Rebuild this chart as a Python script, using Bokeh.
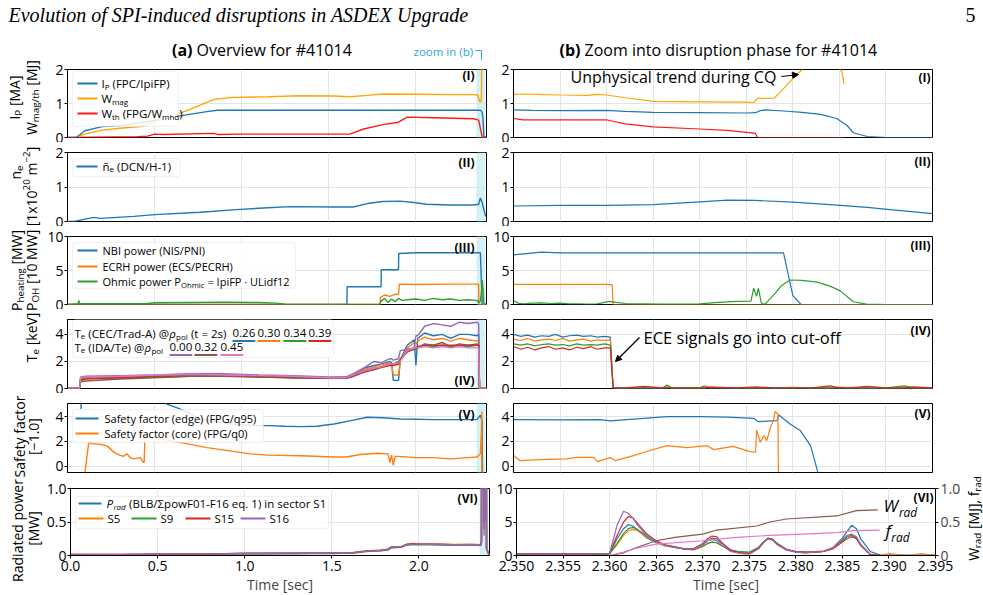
import math
from bokeh.plotting import figure
from bokeh.models import (Range1d, LinearAxis, FixedTicker, PrintfTickFormatter,
                          BoxAnnotation, Label, Arrow, NormalHead)
from bokeh.layouts import column, row
from bokeh.embed import file_html
from bokeh.resources import INLINE

FONT = "Open Sans"
SERIF = "Liberation Serif"
BLUE, ORANGE, GREEN, RED = "#1f77b4", "#ff7f0e", "#2ca02c", "#d62728"
PURPLE, BROWN, PINK = "#9467bd", "#8c564b", "#e377c2"
WMAG_C, WTH_C = "#ffa500", "#ff1a1a"
SKY = "#2aa8dc"

# ---------------- tick lists ----------------
L_XTICKS = [0.0, 0.5, 1.0, 1.5, 2.0]
R_XTICKS = [2.350, 2.355, 2.360, 2.365, 2.370, 2.375, 2.380, 2.385, 2.390, 2.395]

# ---------------- (I) current / energies ----------------
t_ip = [0, 0.05, 0.07, 0.10, 0.15, 0.20, 0.25, 0.30, 0.40, 0.50, 0.60, 0.70, 0.80, 0.86, 1.0, 1.5, 2.0, 2.30, 2.37, 2.375, 2.38, 2.385, 2.39, 2.405]
ip = [0, 0, 0.08, 0.20, 0.26, 0.32, 0.34, 0.35, 0.42, 0.50, 0.60, 0.68, 0.76, 0.80, 0.80, 0.80, 0.80, 0.80, 0.80, 0.78, 0.74, 0.55, 0.03, 0]
t_wmag = [0.07, 0.10, 0.19, 0.30, 0.42, 0.50, 0.57, 0.70, 0.84, 0.95, 1.15, 1.34, 1.53, 1.62, 1.72, 1.81, 2.0, 2.2, 2.33, 2.355, 2.365, 2.372, 2.376, 2.378]
wmag = [0.05, 0.10, 0.21, 0.27, 0.32, 0.45, 0.57, 0.82, 1.12, 1.18, 1.20, 1.23, 1.22, 1.20, 1.24, 1.28, 1.27, 1.26, 1.26, 1.25, 1.06, 1.04, 1.15, 2.5]
t_wth = [0, 0.40, 0.46, 0.50, 0.55, 0.84, 0.86, 1.0, 1.4, 1.62, 1.70, 1.81, 1.90, 1.95, 2.10, 2.33, 2.36, 2.376, 2.38, 2.405]
wth = [0, 0.02, 0.04, 0.10, 0.09, 0.12, 0.09, 0.10, 0.10, 0.10, 0.25, 0.38, 0.45, 0.60, 0.58, 0.55, 0.51, 0.12, 0, 0]

tr_wmag = [2.350, 2.351, 2.353, 2.355, 2.358, 2.359, 2.360, 2.362, 2.365, 2.370, 2.375, 2.3758, 2.3762, 2.378, 2.3785, 2.380, 2.381, 2.3825, 2.3845, 2.3853, 2.3855]
wmag_r = [1.26, 1.28, 1.26, 1.25, 1.24, 1.27, 1.25, 1.17, 1.06, 1.05, 1.04, 1.03, 1.15, 1.16, 1.29, 1.73, 2.0, 2.6, 2.3, 1.9, 1.58]
tr_ip = [2.350, 2.352, 2.355, 2.360, 2.362, 2.365, 2.370, 2.375, 2.376, 2.3765, 2.377, 2.379, 2.381, 2.383, 2.3847, 2.3858, 2.3865, 2.388, 2.390, 2.395]
ip_r = [0.81, 0.80, 0.79, 0.80, 0.77, 0.74, 0.73, 0.72, 0.73, 0.79, 0.81, 0.78, 0.74, 0.68, 0.56, 0.36, 0.14, 0.03, 0.0, 0.0]
tr_wth = [2.350, 2.351, 2.355, 2.360, 2.3603, 2.362, 2.365, 2.370, 2.373, 2.375, 2.376, 2.3762, 2.3855]
wth_r = [0.56, 0.52, 0.52, 0.52, 0.50, 0.40, 0.31, 0.25, 0.21, 0.15, 0.12, 0.0, 0.0]

# ---------------- (II) density ----------------
t_ne = [0, 0.04, 0.10, 0.15, 0.19, 0.38, 0.50, 0.76, 0.99, 1.15, 1.28, 1.53, 1.64, 1.72, 1.81, 1.91, 1.99, 2.06, 2.20, 2.33, 2.36, 2.37, 2.38, 2.40]
ne = [0, 0, 0.07, 0.12, 0.09, 0.15, 0.20, 0.27, 0.35, 0.40, 0.43, 0.42, 0.42, 0.52, 0.58, 0.59, 0.55, 0.50, 0.48, 0.48, 0.50, 0.68, 0.55, 0.15]
tr_ne = [2.350, 2.355, 2.360, 2.365, 2.370, 2.373, 2.376, 2.380, 2.384, 2.388, 2.391, 2.395]
ne_r = [0.45, 0.47, 0.47, 0.49, 0.57, 0.62, 0.61, 0.56, 0.49, 0.41, 0.33, 0.23]

# ---------------- (III) heating ----------------
t_nbi = [0, 1.604, 1.605, 1.80, 1.801, 1.90, 1.901, 2.0, 2.2, 2.37, 2.38, 2.405]
nbi = [0, 0, 2.6, 2.6, 5.1, 5.1, 7.5, 7.6, 7.6, 7.6, 0, 0]
t_ecrh = [0, 1.795, 1.796, 1.82, 1.85, 1.88, 1.90, 1.905, 2.0, 2.2, 2.36, 2.3606, 2.405]
ecrh = [0, 0, 1.0, 1.4, 1.2, 1.5, 1.5, 3.0, 2.95, 3.0, 3.0, 0, 0]
t_ohm = [0, 0.06, 0.065, 0.07, 0.2, 0.45, 0.5, 0.7, 0.9, 1.1, 1.2, 1.25, 1.3, 1.79, 1.80, 1.82, 1.84, 1.86, 1.88, 1.90, 1.92, 1.95, 2.0, 2.05, 2.1, 2.15, 2.2, 2.25, 2.3, 2.35, 2.36, 2.37, 2.378, 2.38, 2.386, 2.39, 2.405]
ohm = [0, 0.1, 0.6, 0.1, 0.1, 0.1, 0.25, 0.3, 0.35, 0.3, 0.2, 0.05, 0, 0, 0.5, 0.9, 0.3, 0.8, 0.4, 0.9, 0.6, 0.7, 0.8, 0.6, 0.9, 0.7, 0.8, 0.6, 0.7, 0.6, 0.3, 0.5, 2.4, 3.6, 2.0, 0.1, 0]
tr_nbi = [2.350, 2.353, 2.355, 2.360, 2.370, 2.379, 2.380, 2.3809, 2.395]
nbi_r = [7.3, 7.7, 7.6, 7.6, 7.6, 7.6, 1.3, 0.0, 0.0]
tr_ecrh = [2.350, 2.360, 2.3606, 2.3607, 2.395]
ecrh_r = [2.95, 2.95, 2.9, 0.0, 0.0]
tr_ohm = [2.350, 2.3505, 2.351, 2.352, 2.353, 2.354, 2.355, 2.356, 2.357, 2.358, 2.359, 2.3603, 2.361, 2.362, 2.364, 2.366, 2.368, 2.370, 2.372, 2.374, 2.3755, 2.3758, 2.3761, 2.3763, 2.3766, 2.3769, 2.3772, 2.378, 2.3788, 2.3797, 2.381, 2.3826, 2.384, 2.3851, 2.3865, 2.3879, 2.390, 2.395]
ohm_r = [0.6, 0.2, 0.1, 0.2, 0.25, 0.15, 0.2, 0.1, 0.1, 0.05, 0.1, 0.45, 0.3, 0.15, 0.1, 0.05, 0.05, 0.1, 0.3, 0.45, 0.5, 2.4, 1.2, 2.4, 0.3, 0.0, 0.3, 1.5, 2.8, 3.6, 3.55, 3.3, 2.7, 2.0, 0.4, 0.05, 0.0, 0.0]

# ---------------- (IV) electron temperature ----------------
t_te = [0, 0.07, 0.075, 0.1, 0.3, 0.5, 0.7, 0.9, 1.1, 1.3, 1.5, 1.6, 1.64, 1.70, 1.76, 1.80, 1.85, 1.86, 1.87, 1.90, 1.91, 1.95, 1.99, 2.0, 2.01, 2.05, 2.1, 2.15, 2.2, 2.25, 2.3, 2.35, 2.36, 2.365, 2.405]
te026 = [0, 0, 0.75, 0.8, 0.9, 0.95, 1.0, 1.0, 0.9, 0.85, 0.8, 0.85, 1.0, 1.5, 1.7, 1.8, 2.0, 1.9, 0.6, 0.6, 2.1, 3.2, 3.6, 1.7, 3.7, 4.1, 3.9, 4.0, 3.7, 4.0, 4.0, 3.9, 4.0, 0, 0]
te030 = [0, 0, 0.7, 0.8, 0.85, 0.95, 1.0, 1.0, 0.9, 0.85, 0.8, 0.8, 0.95, 1.4, 1.6, 1.75, 1.9, 1.8, 1.0, 1.0, 2.0, 3.0, 3.4, 3.3, 3.5, 3.8, 3.6, 3.7, 3.5, 3.7, 3.6, 3.5, 3.6, 0, 0]
te034 = [0, 0, 0.65, 0.75, 0.8, 0.9, 0.95, 0.95, 0.85, 0.8, 0.75, 0.75, 0.9, 1.3, 1.5, 1.6, 1.8, 1.8, 1.75, 1.8, 2.2, 2.7, 2.9, 2.9, 3.0, 3.2, 3.1, 3.2, 3.1, 3.2, 3.1, 3.2, 3.2, 0, 0]
te039 = [0, 0, 0.6, 0.7, 0.8, 0.85, 0.9, 0.9, 0.85, 0.8, 0.75, 0.75, 0.9, 1.2, 1.4, 1.55, 1.7, 1.7, 1.7, 1.8, 2.1, 2.7, 3.0, 3.0, 3.1, 3.2, 3.2, 3.2, 3.2, 3.2, 3.2, 3.2, 3.2, 0, 0]
ida000 = [0, 0, 0.85, 0.9, 0.95, 1.0, 1.1, 1.1, 1.0, 0.95, 0.85, 0.85, 1.1, 1.5, 2.0, 1.9, 2.2, 2.2, 2.1, 2.2, 2.8, 2.9, 3.0, 3.9, 3.9, 4.6, 4.8, 4.7, 4.6, 4.9, 4.8, 4.9, 4.8, 0, 0]
ida032 = [0, 0, 0.5, 0.55, 0.7, 0.8, 0.9, 0.9, 0.9, 0.8, 0.8, 0.8, 0.9, 1.3, 1.4, 1.6, 1.8, 1.8, 1.8, 2.0, 2.1, 2.8, 2.9, 2.9, 3.0, 3.3, 3.2, 3.4, 3.1, 3.3, 3.2, 3.3, 3.2, 0, 0]
ida045 = [0, 0, 0.8, 0.85, 0.9, 1.0, 1.05, 1.0, 0.95, 0.9, 0.8, 0.8, 1.0, 1.3, 1.5, 1.6, 1.8, 1.8, 1.8, 1.9, 2.0, 2.8, 3.0, 3.0, 3.0, 3.1, 3.0, 3.1, 3.0, 3.1, 3.0, 3.0, 3.0, 0, 0]

tr_te = [2.3500, 2.3508, 2.3515, 2.3523, 2.3530, 2.3538, 2.3545, 2.3553, 2.3560, 2.3568, 2.3575, 2.3583, 2.3590, 2.3598, 2.3604,
         2.3607, 2.3620, 2.3640, 2.3660, 2.3665, 2.3670, 2.3700, 2.3705, 2.3710, 2.3740, 2.3760, 2.3780, 2.3800, 2.3820, 2.3840,
         2.3850, 2.3860, 2.3880, 2.3900, 2.3920, 2.3930, 2.3950]
te026_r = [4.0, 3.85, 3.95, 3.8, 3.9, 3.85, 4.0, 3.8, 3.9, 3.95, 3.85, 3.9, 3.8, 3.85, 3.8,
           0.03, 0.03, 0.03, 0.03, 0.03, 0.03, 0.03, 0.03, 0.03, 0.03, 0.03, 0.03, 0.03, 0.03, 0.03, 0.03, 0.03, 0.03, 0.03, 0.03, 0.03, 0.03]
te030_r = [3.65, 3.55, 3.7, 3.5, 3.6, 3.65, 3.55, 3.7, 3.5, 3.6, 3.65, 3.5, 3.6, 3.55, 3.6,
           0.05, 0.05, 0.08, 0.05, 0.12, 0.05, 0.05, 0.05, 0.1, 0.05, 0.05, 0.05, 0.08, 0.05, 0.05, 0.1, 0.05, 0.05, 0.05, 0.05, 0.05, 0.05]
te034_r = [3.3, 3.2, 3.3, 3.15, 3.25, 3.3, 3.2, 3.25, 3.15, 3.3, 3.2, 3.25, 3.2, 3.3, 3.2,
           0.05, 0.05, 0.05, 0.05, 0.25, 0.05, 0.05, 0.2, 0.05, 0.05, 0.05, 0.05, 0.05, 0.05, 0.05, 0.05, 0.05, 0.05, 0.05, 0.2, 0.05, 0.05]
te039_r = [3.1, 2.9, 3.05, 2.85, 3.0, 3.1, 2.9, 3.0, 2.85, 3.05, 2.95, 3.1, 2.9, 3.0, 3.0,
           0.05, 0.05, 0.15, 0.05, 0.05, 0.05, 0.05, 0.05, 0.1, 0.05, 0.12, 0.05, 0.05, 0.05, 0.2, 0.05, 0.05, 0.15, 0.05, 0.05, 0.12, 0.05]

# ---------------- (V) safety factor ----------------
t_q95 = [0.077, 0.078, 0.080, 0.3, 0.5, 0.57, 0.63, 0.69, 0.76, 0.85, 0.95, 1.05, 1.15, 1.25, 1.34, 1.43, 1.53, 1.62, 1.72, 1.81, 1.91, 2.0, 2.1, 2.2, 2.35, 2.37, 2.38, 2.382, 2.405]
q95 = [9, 4.6, 9, 8, 6, 5.0, 4.7, 4.35, 3.8, 3.6, 3.4, 3.3, 3.27, 3.22, 3.19, 3.22, 3.4, 3.65, 3.94, 3.9, 3.8, 3.78, 3.75, 3.75, 3.75, 4.1, 3.6, -1, -1]
t_q0 = [0.10, 0.12, 0.13, 0.14, 0.17, 0.21, 0.23, 0.27, 0.30, 0.32, 0.34, 0.36, 0.38, 0.42, 0.43, 0.44, 0.445, 0.45, 0.48, 0.57, 0.69, 0.80, 0.95, 1.05, 1.15, 1.34, 1.53, 1.60, 1.68, 1.78, 1.84, 1.85, 1.86, 1.87, 1.88, 1.90, 2.0, 2.1, 2.2, 2.3, 2.35, 2.37, 2.376, 2.378, 2.3785]
q0 = [-0.5, 1.7, 2.0, 1.8, 1.8, 1.7, 1.6, 1.1, 0.9, 0.8, 1.0, 0.7, 0.6, 0.7, 0.4, 0.3, 2.5, 2.4, 2.3, 2.1, 1.8, 1.5, 1.2, 1.0, 0.9, 0.85, 0.75, 0.75, 0.95, 1.05, 1.0, 0.3, 0.9, 0.1, 0.8, 0.8, 0.7, 0.7, 0.6, 0.7, 0.75, 1.0, 2.9, 4.4, -0.5]
tr_q95 = [2.350, 2.355, 2.3593, 2.3604, 2.3629, 2.3665, 2.3700, 2.3730, 2.3758, 2.3763, 2.3783, 2.3785, 2.3797, 2.3808, 2.3819, 2.3824, 2.3827]
q95_r = [3.75, 3.73, 3.75, 3.65, 3.8, 4.0, 4.0, 3.95, 3.86, 3.59, 3.67, 4.13, 3.4, 2.87, 1.66, 0.32, -0.54]
tr_q0 = [2.3500, 2.3507, 2.3529, 2.3557, 2.3568, 2.3586, 2.3590, 2.3604, 2.3609, 2.3629, 2.3640, 2.3665, 2.3686, 2.3708, 2.3715, 2.3736, 2.3754, 2.3760, 2.3761, 2.3765, 2.3769, 2.3772, 2.3776, 2.3779, 2.3781, 2.3784, 2.37845]
q0_r = [0.86, 0.46, 0.54, 0.59, 0.72, 0.72, 0.38, 0.70, 0.46, 0.86, 1.13, 1.66, 1.5, 1.66, 1.34, 1.6, 1.18, 1.13, 2.92, 1.93, 2.47, 2.06, 3.14, 3.67, 4.40, 4.21, -0.48]

# ---------------- (VI) radiated power ----------------
t_prL = [0, 0.3, 0.5, 0.8, 1.0, 1.3, 1.5, 1.62, 1.65, 1.70, 1.78, 1.82, 1.84, 1.90, 1.93, 1.96, 2.0, 2.1, 2.2, 2.3, 2.355, 2.359, 2.3615, 2.366, 2.371, 2.374, 2.377, 2.381, 2.386, 2.388, 2.405]
prL_s1 = [0.01, 0.01, 0.015, 0.02, 0.03, 0.03, 0.035, 0.04, 0.05, 0.065, 0.075, 0.085, 0.12, 0.13, 0.16, 0.17, 0.17, 0.165, 0.16, 0.16, 0.16, 0.2, 4.6, 1.5, 2.6, 0.5, 2.6, 0.5, 4.5, 0.1, 0.0]
prL_s5 = [0.02, 0.015, 0.02, 0.025, 0.035, 0.035, 0.04, 0.045, 0.055, 0.07, 0.08, 0.09, 0.125, 0.135, 0.17, 0.18, 0.175, 0.17, 0.165, 0.165, 0.16, 0.2, 3.9, 1.4, 2.0, 0.5, 2.5, 0.6, 3.0, 0.1, 0.0]
prL_s9 = [0.01, 0.012, 0.015, 0.02, 0.025, 0.03, 0.03, 0.035, 0.045, 0.06, 0.07, 0.08, 0.11, 0.125, 0.155, 0.16, 0.165, 0.16, 0.155, 0.155, 0.15, 0.2, 4.2, 1.5, 2.0, 0.6, 2.6, 0.5, 3.0, 0.1, 0.0]
prL_s15 = [0.015, 0.015, 0.02, 0.025, 0.03, 0.035, 0.035, 0.04, 0.05, 0.065, 0.08, 0.09, 0.125, 0.13, 0.165, 0.175, 0.17, 0.17, 0.16, 0.165, 0.16, 0.2, 5.8, 1.6, 2.9, 0.4, 2.5, 0.6, 2.8, 0.1, 0.0]
prL_s16 = [0.012, 0.015, 0.02, 0.025, 0.03, 0.03, 0.04, 0.04, 0.05, 0.065, 0.075, 0.085, 0.12, 0.135, 0.16, 0.17, 0.17, 0.165, 0.16, 0.16, 0.16, 0.2, 6.6, 1.5, 2.4, 0.3, 2.5, 0.5, 3.2, 0.1, 0.0]

tr_pr = [2.350, 2.352, 2.354, 2.356, 2.358, 2.360, 2.3608, 2.3615, 2.362, 2.3625, 2.363, 2.364, 2.365, 2.366, 2.367, 2.368,
         2.369, 2.370, 2.3705, 2.371, 2.3715, 2.372, 2.373, 2.374, 2.375, 2.376, 2.3765, 2.377, 2.3775, 2.378, 2.379, 2.380,
         2.381, 2.382, 2.383, 2.384, 2.385, 2.3855, 2.386, 2.3865, 2.387, 2.388, 2.389, 2.390, 2.392, 2.3935, 2.395]
pr_s1 = [0.2, 0.25, 0.2, 0.15, 0.2, 0.25, 2.5, 4.0, 4.6, 4.4, 3.8, 2.6, 1.9, 1.5, 1.3, 1.0, 1.0, 1.6, 2.2, 2.6, 2.5, 1.9, 0.8, 0.5, 0.3, 1.2, 2.0, 2.6, 2.4, 1.8, 0.9, 0.6, 0.5, 0.5, 0.6, 1.2, 2.6, 3.6, 4.5, 4.0, 2.4, 0.6, 0.1, 0.05, 0.05, 0.05, 0.05]
pr_s5 = [0.25, 0.3, 0.2, 0.25, 0.2, 0.3, 1.6, 3.0, 3.7, 3.9, 3.7, 2.8, 2.0, 1.4, 1.2, 1.0, 0.8, 1.3, 1.8, 2.0, 1.9, 1.5, 0.8, 0.5, 0.4, 1.1, 1.9, 2.5, 2.3, 1.7, 0.9, 0.6, 0.5, 0.6, 0.7, 1.2, 2.3, 2.8, 3.0, 2.7, 1.6, 0.1, 0.0, 0.3, 0.0, 0.3, 0.0]
pr_s9 = [0.2, 0.2, 0.25, 0.2, 0.2, 0.25, 1.8, 3.3, 4.0, 4.2, 3.9, 2.9, 2.0, 1.5, 1.2, 1.0, 0.9, 1.4, 1.8, 2.0, 1.9, 1.5, 0.7, 0.6, 0.5, 1.2, 2.0, 2.6, 2.4, 1.8, 0.9, 0.5, 0.4, 0.5, 0.6, 1.1, 2.2, 2.8, 3.0, 2.6, 1.4, 0.1, 0.0, 0.0, 0.0, 0.0, 0.0]
pr_s15 = [0.2, 0.3, 0.2, 0.2, 0.2, 0.3, 3.0, 5.0, 5.8, 5.6, 4.8, 3.2, 2.2, 1.6, 1.3, 1.0, 1.0, 1.8, 2.5, 2.9, 2.8, 2.0, 0.8, 0.4, 0.3, 1.1, 1.9, 2.5, 2.4, 1.7, 0.9, 0.6, 0.5, 0.5, 0.6, 1.0, 2.0, 2.5, 2.8, 2.5, 1.5, 0.2, 0.0, 0.0, 0.0, 0.0, 0.0]
pr_s16 = [0.2, 0.2, 0.25, 0.2, 0.2, 0.3, 4.5, 6.6, 6.3, 5.6, 4.5, 3.0, 2.0, 1.5, 1.2, 1.0, 0.9, 1.7, 2.2, 2.4, 2.2, 1.6, 0.6, 0.3, 0.2, 1.0, 1.9, 2.5, 2.3, 1.6, 0.8, 0.5, 0.4, 0.5, 0.6, 1.1, 2.4, 3.0, 3.2, 2.8, 1.6, 0.1, 0.0, 0.0, 0.0, 0.0, 0.0]
tr_wrad = [2.350, 2.360, 2.3615, 2.3629, 2.365, 2.367, 2.370, 2.3715, 2.3758, 2.3772, 2.379, 2.3844, 2.3865, 2.3888]
wrad = [0.0, 0.0, 0.04, 0.12, 0.22, 0.27, 0.32, 0.38, 0.44, 0.50, 0.545, 0.59, 0.67, 0.68]
tr_frad = [2.350, 2.360, 2.3615, 2.3629, 2.365, 2.370, 2.3736, 2.3772, 2.3808, 2.3844, 2.3862, 2.389]
frad = [0.0, 0.0, 0.05, 0.11, 0.17, 0.22, 0.27, 0.30, 0.32, 0.34, 0.37, 0.38]

# ---------------- layout geometry (page pixels) ----------------
ROW_T = [69, 152, 236, 319, 403, 488]
ROW_H = [68, 69, 68, 69, 69, 67]
HEADER_H = 60
LAB_W = 43            # left strip for the y-axis titles
RLAB_W = 21           # right strip for the right-axis title
MID = {FONT: 0.388, SERIF: 0.3375}   # baseline -> middle offset (em)

CW = {}
for ch, w in zip("abcdefghijklmnopqrstuvwxyz",
                 [.556, .613, .48, .613, .561, .336, .546, .613, .258, .258, .52, .258, .93, .613, .6, .613, .613, .408, .479, .347, .613, .501, .775, .522, .501, .468]):
    CW[ch] = w
for ch, w in zip("ABCDEFGHIJKLMNOPQRSTUVWXYZ",
                 [.633, .647, .631, .73, .556, .519, .728, .738, .279, .267, .614, .519, .903, .754, .779, .602, .779, .618, .549, .553, .729, .581, .906, .576, .553, .555]):
    CW[ch] = w
for ch in "0123456789":
    CW[ch] = .572
CW.update({" ": .26, "(": .297, ")": .297, "[": .328, "]": .328, "/": .371, ".": .266, ",": .25,
           "-": .322, "\u2212": .572, "=": .572, "#": .646, ":": .266, "\u03c1": .6, "\u00b7": .266,
           "\u03a3": .6, "\u00f1": .613, "@": .9})


def tw(s, size, bold=False):
    w = sum(CW.get(c, .56) for c in s) * size
    return w * 1.08 if bold else w


class Panel:
    """Text/annotation helper; positions are given in page pixels (baseline positions)."""

    def __init__(self, p, fx0, fy1):
        self.p, self.fx0, self.fy1 = p, fx0, fy1

    def label(self, X, Y, text, size, color="black", style="normal", angle=0.0, align="left",
              baseline="alphabetic", font=FONT):
        dx = dy = 0.0
        if baseline == "alphabetic":
            s = MID.get(font, 0.388) * size
            if angle == 0:
                dy = s
            else:
                dx = -s
            baseline = "middle"
        self.p.add_layout(Label(x=X - self.fx0 + dx, y=self.fy1 - Y + dy, x_units="screen", y_units="screen",
                                text=text, text_font=font, text_font_size="%.1fpx" % size,
                                text_color=color, text_font_style=style, angle=angle,
                                text_align=align, text_baseline=baseline))

    def rich(self, X, Y, parts, size, angle=0.0, color="black", align="left"):
        segs, total = [], 0.0
        for txt, kind in parts:
            small = kind.startswith("sub") or kind.startswith("sup")
            fs = size * 0.7 if small else size
            lead = len(txt) - len(txt.lstrip(" "))
            body = txt.lstrip(" ")
            w = tw(body, fs, kind == "b")
            pre = lead * 0.26 * fs
            segs.append((body, kind, fs, w, pre))
            total += w + pre
        cur = -total / 2 if align == "center" else 0.0
        for body, kind, fs, w, pre in segs:
            cur += pre
            off = -0.22 * size if kind.startswith("sub") else (0.42 * size if kind.startswith("sup") else 0.0)
            off += MID[FONT] * fs
            style = "italic" if kind in ("i", "subi") else ("bold" if kind == "b" else "normal")
            if angle == 0:
                sx, sy = X - self.fx0 + cur, self.fy1 - Y + off
            else:
                sx, sy = X - self.fx0 - off, self.fy1 - Y + cur
            self.p.add_layout(Label(x=sx, y=sy, x_units="screen", y_units="screen", text=body,
                                    text_font=FONT, text_font_size="%.1fpx" % fs, text_color=color,
                                    text_font_style=style, angle=angle, text_align="left",
                                    text_baseline="middle"))
            cur += w

    def seg(self, x0, y0, x1, y1, color, width=1.0, alpha=1.0, head=None):
        self.p.add_layout(Arrow(end=head, x_start=x0 - self.fx0, y_start=self.fy1 - y0,
                                x_end=x1 - self.fx0, y_end=self.fy1 - y1,
                                start_units="screen", end_units="screen",
                                line_color=color, line_width=width, line_alpha=alpha))

    def box(self, x0, y0, x1, y1):
        self.p.add_layout(BoxAnnotation(left=x0 - self.fx0, right=x1 - self.fx0,
                                        top=self.fy1 - y0, bottom=self.fy1 - y1,
                                        left_units="screen", right_units="screen",
                                        top_units="screen", bottom_units="screen",
                                        fill_color="white", fill_alpha=0.85, line_color="#cccccc",
                                        line_width=1, border_radius=3))


def blank_fig(w, h):
    f = figure(width=w, height=h, x_range=Range1d(0, 1), y_range=Range1d(0, 1),
               x_axis_location=None, y_axis_location=None, output_backend="svg",
               toolbar_location=None, tools="", min_border=0)
    f.grid.visible = False
    f.outline_line_color = None
    return f


def make_panel(col, r, yr, yticks, yfmt, yover=None):
    fx0 = 67 if col == 0 else 513
    fig_top = HEADER_H if r == 0 else ROW_T[r - 1] + ROW_H[r - 1] + 5
    mbt = ROW_T[r] - fig_top
    mbb = 40 if r == 5 else 5
    xr = Range1d(0, 2.405) if col == 0 else Range1d(2.35, 2.395)
    p = figure(frame_width=419, frame_height=ROW_H[r], x_range=xr, y_range=Range1d(*yr),
               min_border_left=67 - LAB_W if col == 0 else 26, min_border_right=1 if col == 0 else 30,
               min_border_top=mbt, min_border_bottom=mbb,
               output_backend="svg", toolbar_location=None, tools="")
    p.outline_line_color = "black"
    p.outline_line_width = 1
    p.outline_line_alpha = 1
    xt = FixedTicker(ticks=L_XTICKS if col == 0 else R_XTICKS)
    p.xaxis.ticker = xt
    p.xgrid.ticker = xt
    p.xaxis.formatter = PrintfTickFormatter(format="%.1f" if col == 0 else "%.3f")
    p.yaxis.ticker = FixedTicker(ticks=yticks)
    p.yaxis.formatter = PrintfTickFormatter(format=yfmt)
    if yover:
        p.yaxis.major_label_overrides = yover
    p.grid.grid_line_color = "#e4e4e4"
    p.grid.grid_line_width = 1
    p.axis.axis_line_color = "black"
    p.axis.major_tick_line_color = "black"
    p.axis.major_tick_out = 3
    p.axis.major_tick_in = 0
    p.axis.minor_tick_line_color = None
    p.axis.major_label_text_font = FONT
    p.axis.major_label_text_font_size = "14px"
    p.axis.major_label_text_color = "black"
    p.axis.major_label_standoff = 1
    if r < 5:
        p.xaxis.visible = False
    else:
        p.xaxis.major_label_standoff = 2
        p.xaxis.axis_label = "Time [sec]"
        p.xaxis.axis_label_text_font = FONT
        p.xaxis.axis_label_text_font_size = "14px"
        p.xaxis.axis_label_text_font_style = "normal"
        p.xaxis.axis_label_standoff = 1
    if col == 0:
        p.add_layout(BoxAnnotation(left=2.35, right=2.395, fill_color="#c6eef2", fill_alpha=0.75,
                                   line_color="#8fd6df", line_width=0.6, level="underlay"))
    return Panel(p, fx0, ROW_T[r] + ROW_H[r])


def panel_tag(pn, col, Y, text):
    pn.label(474 if col == 0 else 930, Y, text, 12, style="bold", align="right", baseline="middle")


LW, RW = 1.4, 1.2
VERT = math.pi / 2

# side strips and header (texts outside the plot frames live here)
LAB = Panel(blank_fig(LAB_W, 595 - HEADER_H), 0, 595)
RLAB = Panel(blank_fig(RLAB_W, 595 - HEADER_H), 983 - RLAB_W, 595)
HEAD = Panel(blank_fig(983, HEADER_H), 0, HEADER_H)

HEAD.label(8, 21, "Evolution of SPI-induced disruptions in ASDEX Upgrade", 20, style="italic", font=SERIF)
HEAD.label(975, 21, "5", 20, align="right", font=SERIF)
HEAD.label(192, 56, "(a)", 16, style="bold", align="right")
HEAD.label(196, 56, "Overview for #41014", 16)
HEAD.label(580, 56, "(b)", 16, style="bold", align="right")
HEAD.label(584, 56, "Zoom into disruption phase for #41014", 16)
HEAD.label(413, 55, "zoom in (b)", 11.5, color=SKY)
HEAD.seg(475, 50, 481, 50, SKY, 1)
HEAD.seg(481, 50, 481, 60, SKY, 1)

# ================= Row I =================
L1 = make_panel(0, 0, (0, 2), [0, 1, 2], "%d")
L1.p.line(t_ip, ip, color=BLUE, line_width=LW)
L1.p.line(t_wmag, wmag, color=WMAG_C, line_width=LW)
L1.p.line(t_wth, wth, color=WTH_C, line_width=LW)
L1.box(72, 71, 178, 126)
for yy, c, parts in [(83, BLUE, [("I", "n"), ("P", "sub"), (" (FPC/IpiFP)", "n")]),
                     (98, WMAG_C, [("W", "n"), ("mag", "sub")]),
                     (113, WTH_C, [("W", "n"), ("th", "sub"), (" (FPG/W", "n"), ("mhd", "sub"), (")", "n")])]:
    L1.seg(77, yy, 97, yy, c, 2)
    L1.rich(101, yy + 4, parts, 11.5)
panel_tag(L1, 0, 75, "(I)")
LAB.rich(19, 97, [("I", "n"), ("P", "sub"), (" [MA]", "n")], 14, angle=VERT, align="center")
LAB.rich(36, 97, [("W", "n"), ("mag/th", "sub"), (" [MJ]", "n")], 14, angle=VERT, align="center")

R1 = make_panel(1, 0, (0, 2), [0, 1, 2], "%d")
R1.p.line(tr_ip, ip_r, color=BLUE, line_width=RW)
R1.p.line(tr_wmag, wmag_r, color=WMAG_C, line_width=RW)
R1.p.line(tr_wth, wth_r, color=WTH_C, line_width=RW)
panel_tag(R1, 1, 77, "(I)")
R1.label(570, 83, "Unphysical trend during CQ", 16)
R1.seg(781, 76, 798, 74, "black", 1.2, head=NormalHead(size=6, fill_color="black", line_color="black"))

# ================= Row II =================
L2 = make_panel(0, 1, (0, 2), [0, 1, 2], "%d")
L2.p.line(t_ne, ne, color=BLUE, line_width=LW)
L2.box(72, 158, 180, 176)
L2.seg(76, 166, 97, 166, BLUE, 2)
L2.rich(102, 170, [("\u00f1", "n"), ("e", "sub"), (" (DCN/H-1)", "n")], 11.5)
panel_tag(L2, 0, 162, "(II)")
LAB.rich(20, 172, [("n", "n"), ("e", "sub")], 14, angle=VERT, align="center")
LAB.rich(36, 186, [("[1x10", "n"), ("20", "sup"), (" m", "n"), ("\u22122", "sup"), ("]", "n")], 14,
         angle=VERT, align="center")

R2 = make_panel(1, 1, (0, 2), [0, 1, 2], "%d")
R2.p.line(tr_ne, ne_r, color=BLUE, line_width=RW)
panel_tag(R2, 1, 161, "(II)")

# ================= Row III =================
L3 = make_panel(0, 2, (0, 10), [0, 5, 10], "%d")
L3.p.line(t_nbi, nbi, color=BLUE, line_width=LW)
L3.p.line(t_ecrh, ecrh, color=ORANGE, line_width=LW)
L3.p.line(t_ohm, ohm, color=GREEN, line_width=LW)
L3.box(72, 242, 295, 288)
for yy, c, parts in [(250, BLUE, [("NBI power (NIS/PNI)", "n")]),
                     (266, ORANGE, [("ECRH power (ECS/PECRH)", "n")]),
                     (281, GREEN, [("Ohmic power P", "n"), ("Ohmic", "sub"), (" = IpiFP \u00b7 ULidf12", "n")])]:
    L3.seg(77, yy, 97, yy, c, 2)
    L3.rich(102, yy + 4, parts, 11)
panel_tag(L3, 0, 247, "(III)")
LAB.rich(21, 270, [("P", "n"), ("heating", "sub"), (" [MW]", "n")], 14, angle=VERT, align="center")
LAB.rich(36, 270, [("P", "n"), ("OH", "sub"), (" [10 MW]", "n")], 14, angle=VERT, align="center")

R3 = make_panel(1, 2, (0, 10), [0, 5, 10], "%d")
R3.p.line(tr_nbi, nbi_r, color=BLUE, line_width=RW)
R3.p.line(tr_ecrh, ecrh_r, color=ORANGE, line_width=RW)
R3.p.line(tr_ohm, ohm_r, color=GREEN, line_width=RW)
panel_tag(R3, 1, 245, "(III)")

# ================= Row IV =================
L4 = make_panel(0, 3, (0, 5.1), [0, 2, 4], "%d")
for ys, c in [(te026, BLUE), (te030, ORANGE), (te034, GREEN), (te039, RED),
              (ida000, PURPLE), (ida032, BROWN), (ida045, PINK)]:
    L4.p.line(t_te, ys, color=c, line_width=LW)
L4.box(72, 319, 333, 357)
L4.rich(74, 337, [("T", "n"), ("e", "sub"), (" (CEC/Trad-A) @", "n"), ("\u03c1", "i"), ("pol", "sub"), (" (t = 2s)", "n")], 11.5)
for x0, txt, c in [(232, "0.26", BLUE), (257, "0.30", ORANGE), (283, "0.34", GREEN), (308, "0.39", RED)]:
    L4.label(x0, 337, txt, 11.5)
    L4.seg(x0, 340.5, x0 + tw(txt, 11.5), 340.5, c, 2)
L4.rich(74, 351, [("T", "n"), ("e", "sub"), (" (IDA/Te) @", "n"), ("\u03c1", "i"), ("pol", "sub")], 11.5)
for x0, txt, c in [(169, "0.00", PURPLE), (194, "0.32", BROWN), (220, "0.45", PINK)]:
    L4.label(x0, 351, txt, 11.5)
    L4.seg(x0, 354.5, x0 + tw(txt, 11.5), 354.5, c, 2)
panel_tag(L4, 0, 380, "(IV)")
LAB.rich(36, 337, [("T", "n"), ("e", "sub"), (" [keV]", "n")], 14, angle=VERT, align="center")

R4 = make_panel(1, 3, (0, 5.1), [0, 2, 4], "%d")
for ys, c in [(te026_r, BLUE), (te030_r, ORANGE), (te034_r, GREEN), (te039_r, RED)]:
    R4.p.line(tr_te, ys, color=c, line_width=RW)
panel_tag(R4, 1, 330, "(IV)")
R4.label(643, 343, "ECE signals go into cut-off", 16.5)
R4.seg(639, 337, 615, 361, "black", 1.2, head=NormalHead(size=6, fill_color="black", line_color="black"))

# ================= Row V =================
L5 = make_panel(0, 4, (-0.5, 5.05), [0, 2, 4], "%d")
L5.p.line(t_q95, q95, color=BLUE, line_width=LW)
L5.p.line(t_q0, q0, color=ORANGE, line_width=LW)
L5.box(72, 409, 263, 442)
for yy, c, txt in [(418, BLUE, "Safety factor (edge) (FPG/q95)"), (433, ORANGE, "Safety factor (core) (FPG/q0)")]:
    L5.seg(75, yy, 98, yy, c, 2)
    L5.label(104, yy + 4, txt, 11)
panel_tag(L5, 0, 414, "(V)")
LAB.label(24, 436, "Safety factor", 14, angle=VERT, align="center")
LAB.label(38, 436, "[\u22121.0]", 14, angle=VERT, align="center")

R5 = make_panel(1, 4, (-0.5, 5.05), [0, 2, 4], "%d")
R5.p.line(tr_q95, q95_r, color=BLUE, line_width=RW)
R5.p.line(tr_q0, q0_r, color=ORANGE, line_width=RW)
panel_tag(R5, 1, 413, "(V)")

# ================= Row VI =================
L6 = make_panel(0, 5, (0, 1), [0, 0.5, 1.0], "%.1f", {0: "0"})
for ys, c in [(prL_s1, BLUE), (prL_s5, ORANGE), (prL_s9, GREEN), (prL_s15, RED), (prL_s16, PURPLE)]:
    L6.p.line(t_prL, ys, color=c, line_width=LW)
L6.box(72, 496, 325, 528)
L6.seg(75, 503, 98, 503, BLUE, 2)
L6.rich(103, 507, [("P", "i"), ("rad", "subi"), (" (BLB/\u03a3powF01-F16 eq. 1) in sector S1", "n")], 11.5)
for x0, txt, c in [(75, "S5", ORANGE), (128, "S9", GREEN), (182, "S15", RED), (237, "S16", PURPLE)]:
    L6.seg(x0, 518, x0 + 25, 518, c, 2)
    L6.label(x0 + 29, 522, txt, 11.5)
panel_tag(L6, 0, 498, "(VI)")
LAB.label(22, 530, "Radiated power", 14, angle=VERT, align="center")
LAB.label(38, 528, "[MW]", 14, angle=VERT, align="center")

R6 = make_panel(1, 5, (0, 10), [0, 5, 10], "%d")
R6.p.extra_y_ranges = {"w": Range1d(0, 1)}
rax = LinearAxis(y_range_name="w", ticker=FixedTicker(ticks=[0, 0.5, 1.0]),
                 formatter=PrintfTickFormatter(format="%.1f"), major_label_overrides={0: "0"},
                 axis_line_color="black", major_tick_line_color="black", major_tick_out=3, major_tick_in=0,
                 minor_tick_line_color=None, major_label_text_font=FONT, major_label_text_font_size="14px",
                 major_label_standoff=2)
R6.p.add_layout(rax, "right")
for ys, c in [(pr_s1, BLUE), (pr_s5, ORANGE), (pr_s9, GREEN), (pr_s15, RED), (pr_s16, PURPLE)]:
    R6.p.line(tr_pr, ys, color=c, line_width=RW)
R6.p.line(tr_wrad, wrad, color=BROWN, line_width=RW, y_range_name="w")
R6.p.line(tr_frad, frad, color=PINK, line_width=RW, y_range_name="w")
panel_tag(R6, 1, 497, "(VI)")
R6.rich(880, 512, [("W", "i"), ("rad", "subi")], 17)
R6.rich(882, 537, [("f", "i"), ("rad", "subi")], 17)
RLAB.rich(975, 518, [("W", "n"), ("rad", "sub"), (" [MJ], f", "n"), ("rad", "sub")], 14,
          angle=VERT, align="center")

rows = [row(L.p, R.p, spacing=0) for L, R in [(L1, R1), (L2, R2), (L3, R3), (L4, R4), (L5, R5), (L6, R6)]]
body = row(LAB.p, column(rows, spacing=0), RLAB.p, spacing=0)
layout = column(HEAD.p, body, spacing=0)

open("out.html", "w").write(file_html(layout, INLINE, title="SPI disruptions"))
